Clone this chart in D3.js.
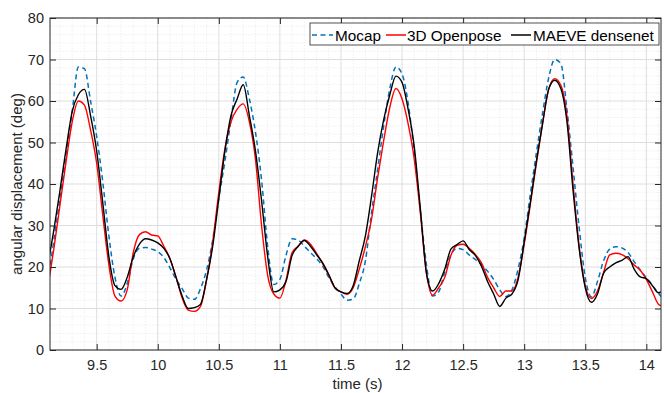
<!DOCTYPE html>
<html><head><meta charset="utf-8">
<script src="https://cdn.jsdelivr.net/npm/d3@7"></script>
<style>
html,body{margin:0;padding:0;background:#fff;}
svg{display:block;font-family:"Liberation Sans",Arial,Helvetica,sans-serif;}
</style></head>
<body>
<svg id="chart" width="664" height="393"></svg>
<script>
const time = [9.10,9.15,9.20,9.25,9.30,9.35,9.40,9.45,9.50,9.55,9.60,9.65,9.70,9.75,9.80,9.85,9.90,9.95,
10.00,10.05,10.10,10.15,10.20,10.25,10.30,10.35,10.40,10.45,10.50,10.55,10.60,10.65,10.70,10.75,10.80,10.85,10.90,10.95,
11.00,11.05,11.10,11.15,11.20,11.25,11.30,11.35,11.40,11.45,11.50,11.55,11.60,11.65,11.70,11.75,11.80,11.85,11.90,11.95,
12.00,12.05,12.10,12.15,12.20,12.25,12.30,12.35,12.40,12.45,12.50,12.55,12.60,12.65,12.70,12.75,12.80,12.85,12.90,12.95,
13.00,13.05,13.10,13.15,13.20,13.25,13.30,13.35,13.40,13.45,13.50,13.55,13.60,13.65,13.70,13.75,13.80,13.85,13.90,13.95,
14.00,14.05,14.10,14.15];

const mocap = [16.5,26.5,36.5,47,57.5,68.2,67.8,60,51.5,40.5,27.5,17.5,13,16,22,24.5,24.7,24.3,
23.7,22.3,19.8,17,14.8,12.5,12.2,14.8,19.3,26.5,36.5,45.5,55.5,64.5,65.8,60.5,52.5,41,25,15.8,
17,22.8,26.8,26.5,25,23.5,22,20.2,17.5,15.3,13.5,12,12.3,16,21.5,33,43.5,54,63,68.2,
66.5,59.5,47.5,33.5,20.5,13,14,18.8,23,24.5,24.2,22.9,21.8,20.6,19,17,14.5,12.9,14.5,19.5,
27,37.5,47.5,57,65.5,70,69,58,44,29.5,17.5,12.8,16.5,21.5,24.3,24.9,24.6,23.5,21.3,19.3,
17.4,15.6,13.6,12];

const openpose = [15,24.5,35,45.5,55,60,59,53,45,32.5,20.5,13,11.8,14.5,23.5,27.8,28.5,27.7,
27.5,25,22,17.5,12.5,9.6,9.3,10.5,16.9,26,38,48.5,55,58,59.3,55,46,30,18,13.5,
12.5,16.8,23.5,25,26.5,25.5,23.3,20.8,18,15,14,13.4,15,19.5,24.9,31.5,41.5,50.5,58.5,63,
60.5,54.5,46,33,18.5,13.2,15,17.5,22.8,25.2,25.5,24.5,23,21,17.5,15,12.9,14.2,14.2,17.5,
25.5,35,45,54.5,62.8,65.4,63.8,56.5,40,25,15.5,12.4,14.2,18.7,22.9,23.3,23,22,20.5,19.2,
17,14,11,10.4];

const densenet = [20.5,29,38.5,48.5,57.5,61.5,62.8,56.5,48,35.5,22.5,15.5,14.6,17.5,22.5,25.5,26.8,26.5,
25.8,24.5,22,17.5,13,10,10.2,11,17,25,36.5,48,56.5,60.5,63.9,56.5,48,36,22.5,14,
14.5,16.5,22.8,25,26.4,25,23,21,18.2,15,14,13.6,15.5,21.5,27.5,37,47.5,55.5,61.5,66,
64.5,58,49,34,18.5,14.2,16,19.5,24.3,25.4,26.3,24.2,22.8,20.2,16.5,13.5,10.5,12.5,13.5,16.9,
26,35.5,45.5,54.5,62.8,65,63,55,38.5,24.5,15,11.5,13.5,18.5,20,21,21.6,22.5,19.5,17.6,
17.2,15.5,13.8,14.5];

const seriesNames = ["Mocap","3D Openpose","MAEVE densenet"];
const xTicks = [9.5,10,10.5,11,11.5,12,12.5,13,13.5,14];
const yTicks = [0,10,20,30,40,50,60,70,80];
const xLabel = "time (s)";
const yLabel = "angular displacement (deg)";

(function draw() {
const svg = d3.select("#chart");
const L = 50, T = 18, R = 661, B = 350;
const x = d3.scaleLinear().domain([9.118, 14.12]).range([L, R]);
const y = d3.scaleLinear().domain([0, 80]).range([B, T]);
const axisCol = "#262626";

// minor grid
const xMinor = d3.range(92, 142).map(d => d / 10).filter(v => v >= 9.118 && v <= 14.12 && Math.abs(v*2 - Math.round(v*2)) > 1e-6);
const yMinor = d3.range(0, 81, 2).filter(v => v % 10 !== 0);
const g = svg.append("g");
g.selectAll(".xm").data(xMinor).enter().append("line")
  .attr("x1", d => x(d)).attr("x2", d => x(d)).attr("y1", T).attr("y2", B)
  .attr("stroke", "#e6e6e6").attr("stroke-width", 0.6).attr("stroke-dasharray", "1.5,1.5");
g.selectAll(".ym").data(yMinor).enter().append("line")
  .attr("y1", d => y(d)).attr("y2", d => y(d)).attr("x1", L).attr("x2", R)
  .attr("stroke", "#e6e6e6").attr("stroke-width", 0.6).attr("stroke-dasharray", "1.5,1.5");
// major grid
g.selectAll(".xg").data(xTicks).enter().append("line")
  .attr("x1", d => x(d)).attr("x2", d => x(d)).attr("y1", T).attr("y2", B)
  .attr("stroke", "#dedede").attr("stroke-width", 1);
g.selectAll(".yg").data(yTicks).enter().append("line")
  .attr("y1", d => y(d)).attr("y2", d => y(d)).attr("x1", L).attr("x2", R)
  .attr("stroke", "#dedede").attr("stroke-width", 1);

// clip
svg.append("clipPath").attr("id", "clip").append("rect")
  .attr("x", L).attr("y", T).attr("width", R - L).attr("height", B - T);

const line = vals => d3.line().x((d, i) => x(time[i])).y(d => y(d)).curve(d3.curveMonotoneX)(vals);
const plot = svg.append("g").attr("clip-path", "url(#clip)");
plot.append("path").attr("d", line(mocap)).attr("fill", "none")
  .attr("stroke", "#0072BD").attr("stroke-width", 1.5).attr("stroke-dasharray", "5,3.5");
plot.append("path").attr("d", line(openpose)).attr("fill", "none")
  .attr("stroke", "#FF0000").attr("stroke-width", 1.4);
plot.append("path").attr("d", line(densenet)).attr("fill", "none")
  .attr("stroke", "#000000").attr("stroke-width", 1.4);

// axes
const fmt = d => String(d);
const ax = (a) => a.tickSizeOuter(0).tickSizeInner(-6).tickPadding(10);
const axB = svg.append("g").attr("transform", `translate(0,${B})`)
  .call(ax(d3.axisBottom(x).tickValues(xTicks).tickFormat(fmt)));
const axT = svg.append("g").attr("transform", `translate(0,${T})`)
  .call(ax(d3.axisTop(x).tickValues(xTicks).tickFormat("")));
const axL = svg.append("g").attr("transform", `translate(${L},0)`)
  .call(ax(d3.axisLeft(y).tickValues(yTicks).tickFormat(fmt)).tickPadding(6));
const axR = svg.append("g").attr("transform", `translate(${R},0)`)
  .call(ax(d3.axisRight(y).tickValues(yTicks).tickFormat("")));
[axB, axT, axL, axR].forEach(a => {
  a.selectAll(".domain").remove();
  a.selectAll("line").attr("stroke", axisCol).attr("stroke-width", 1);
  a.selectAll("text").attr("fill", axisCol).style("font-size", "14.5px")
    .style("font-family", '"Liberation Sans",Arial,sans-serif');
});
svg.append("rect").attr("x", L).attr("y", T).attr("width", R - L).attr("height", B - T)
  .attr("fill", "none").attr("stroke", axisCol).attr("stroke-width", 1);

// axis labels
svg.append("text").attr("x", (L + R) / 2 + 2).attr("y", 389).attr("text-anchor", "middle")
  .attr("fill", axisCol).style("font-size", "15px").text(xLabel);
svg.append("text").attr("transform", `translate(22,${(T + B) / 2}) rotate(-90)`)
  .attr("text-anchor", "middle").attr("fill", axisCol).style("font-size", "15px").text(yLabel);

// legend
const lg = svg.append("g");
lg.append("rect").attr("x", 310).attr("y", 23).attr("width", 349).attr("height", 22)
  .attr("fill", "#fff").attr("stroke", axisCol).attr("stroke-width", 0.8);
const legendItems = [
  {name: seriesNames[0], color: "#0072BD", dash: "5,3.5", x0: 312, x1: 333, tx: 335},
  {name: seriesNames[1], color: "#FF0000", dash: null, x0: 386, x1: 406, tx: 407},
  {name: seriesNames[2], color: "#000000", dash: null, x0: 511, x1: 531, tx: 533}
];
legendItems.forEach(it => {
  const l = lg.append("line").attr("x1", it.x0).attr("x2", it.x1).attr("y1", 35).attr("y2", 35)
    .attr("stroke", it.color).attr("stroke-width", 1.5);
  if (it.dash) l.attr("stroke-dasharray", it.dash);
  lg.append("text").attr("x", it.tx).attr("y", 41).attr("fill", "#000")
    .style("font-size", "15.3px").text(it.name);
});
})();
</script>
</body></html>
